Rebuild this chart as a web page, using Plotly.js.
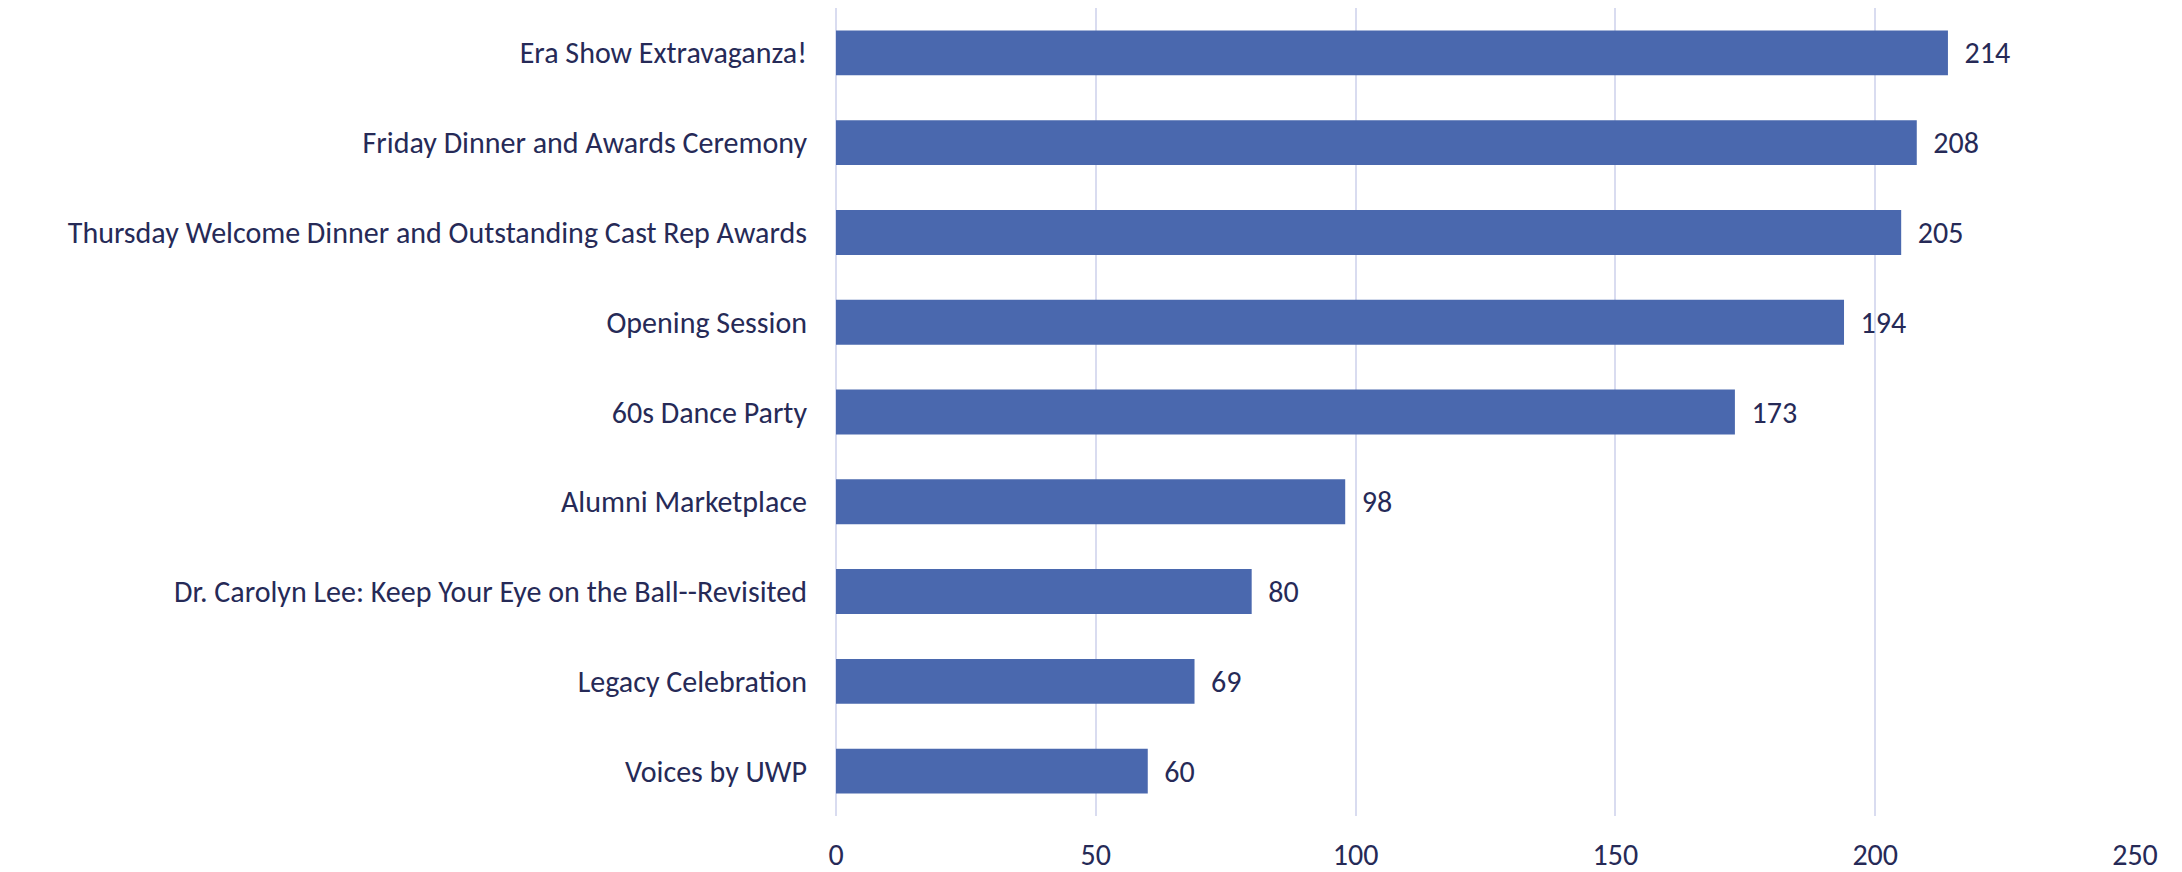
<!DOCTYPE html>
<html>
<head>
<meta charset="utf-8">
<script src="https://cdn.plot.ly/plotly-3.0.1.min.js"></script>
<style>html,body{margin:0;padding:0;background:#fff;}#chart{width:2182px;height:872px;}</style>
</head>
<body>
<div id="chart"></div>
<script>
const categories = [
  "Era Show Extravaganza!",
  "Friday Dinner and Awards Ceremony",
  "Thursday Welcome Dinner and Outstanding Cast Rep Awards",
  "Opening Session",
  "60s Dance Party",
  "Alumni Marketplace",
  "Dr. Carolyn Lee: Keep Your Eye on the Ball--Revisited",
  "Legacy Celebration",
  "Voices by UWP"
];
const values = [214, 208, 205, 194, 173, 98, 80, 69, 60];
const xTicks = [0, 50, 100, 150, 200, 250];

const FONT = "Carlito, Calibri, Lato, sans-serif";
const TXT = "#262a57";
const FS = 30;

Plotly.newPlot("chart", [{
  type: "bar",
  orientation: "h",
  y: categories,
  x: values,
  width: 0.5,
  marker: {color: "#4a68ae"},
  text: values.map(String),
  texttemplate: "\u00a0\u00a0%{text}",
  textposition: "outside",
  cliponaxis: false,
  textfont: {family: FONT, size: FS, color: TXT},
  hoverinfo: "none"
}], {
  width: 2182, height: 872,
  margin: {l: 836, r: 47, t: 8, b: 56},
  paper_bgcolor: "#fff", plot_bgcolor: "#fff",
  showlegend: false,
  font: {family: FONT, size: FS, color: TXT},
  xaxis: {
    range: [0, 250], tickvals: xTicks, ticktext: xTicks.map(String),
    showgrid: true, gridcolor: "#d9dcf0", gridwidth: 2,
    zeroline: true, zerolinecolor: "#d9dcf0", zerolinewidth: 2,
    showline: false, ticks: "outside", ticklen: 12, tickcolor: "rgba(0,0,0,0)",
    tickfont: {family: FONT, size: FS, color: TXT}, fixedrange: true
  },
  yaxis: {
    autorange: "reversed", showgrid: false, zeroline: false, showline: false,
    ticks: "outside", ticklen: 22, tickcolor: "rgba(0,0,0,0)",
    tickfont: {family: FONT, size: FS, color: TXT}, fixedrange: true
  }
}, {displayModeBar: false, staticPlot: true});
</script>
</body>
</html>
